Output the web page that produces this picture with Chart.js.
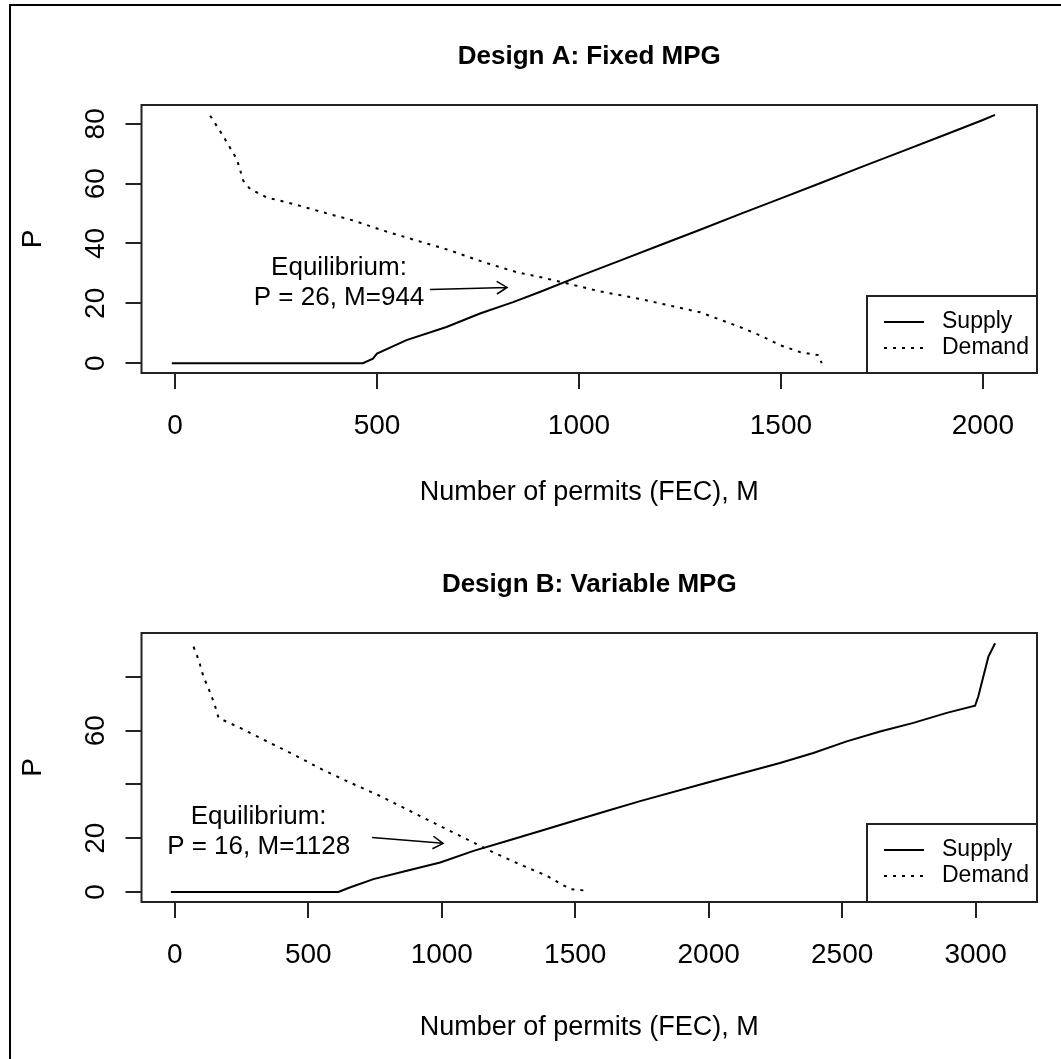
<!DOCTYPE html>
<html>
<head>
<meta charset="utf-8">
<script src="https://cdn.jsdelivr.net/npm/chart.js@4.4.0/dist/chart.umd.min.js"></script>
<style>
    html, body { margin: 0; padding: 0; background: #fff; }
    #page { position: relative; width: 1061px; height: 1059px; overflow: hidden; background: #fff; }
    #frame { position: absolute; left: 9px; top: 4px; width: 1100px; height: 1100px;
             border-left: 2px solid #000; border-top: 2px solid #000; }
    canvas { position: absolute; left: 0; }
</style>
</head>
<body>
<div id="page">
    <div id="frame"></div>
    <canvas id="chartA" width="1061" height="530" style="top:0px"></canvas>
    <canvas id="chartB" width="1061" height="529" style="top:530px"></canvas>
</div>
<script>
// Design A: Fixed MPG
const supplyA_M = [-8, 465, 490, 500, 573, 672, 755, 837, 903, 1000, 1100, 1200, 1300, 1400, 1500, 1600, 1700, 1800, 1900, 2000, 2030]
const supplyA_P = [0, 0, 1.5, 3.2, 7.7, 12.1, 16.6, 20.4, 23.8, 29, 34.2, 39.4, 44.6, 49.9, 55.1, 60.3, 65.6, 70.8, 76, 81.3, 83]
const demandA_M = [87, 100, 116, 153, 169, 186, 227, 293, 367, 441, 516, 598, 681, 763, 846, 903, 960, 1052, 1150, 1200, 1300, 1400, 1448, 1498, 1547, 1592, 1601]
const demandA_P = [82.7, 80, 76.6, 68.2, 61, 58.2, 55.4, 53.2, 50.4, 47.7, 44.3, 41, 37.7, 33.8, 30.4, 28.8, 27, 24, 21.5, 20, 17, 12, 9.3, 6, 3.7, 2.7, 0]

// Design B: Variable MPG
const supplyB_M = [-15, 613, 650, 744, 869, 994, 1119, 1244, 1369, 1493, 1618, 1743, 2000, 2267, 2392, 2517, 2642, 2767, 2892, 2998, 3010, 3029, 3048, 3073]
const supplyB_P = [0, 0, 1.5, 4.8, 7.9, 11, 15.3, 19, 22.7, 26.4, 30.1, 33.8, 40.8, 48, 51.7, 56, 59.7, 62.9, 66.6, 69.3, 72.7, 80.1, 87.5, 92.5]
const demandB_M = [70, 89, 107, 133, 151, 164, 245, 345, 445, 551, 645, 769, 894, 1019, 1119, 1194, 1306, 1394, 1481, 1543]
const demandB_P = [91.2, 86.3, 80.1, 74, 69, 64.7, 61, 56, 51.1, 45.6, 41.2, 35.7, 29.5, 23.3, 18.4, 14.7, 9.7, 6, 1.1, 0.5]

// axis ticks, and the P labels R actually printed (it drops ones that would overlap)
const xTicksA = [0, 500, 1000, 1500, 2000]
const xTicksB = [0, 500, 1000, 1500, 2000, 2500, 3000]
const yTicksA = [0, 20, 40, 60, 80]
const yTicksB = [0, 20, 40, 60, 80]
const yTickLabelsA = [0, 20, 40, 60, 80]
const yTickLabelsB = [0, 20, 60]

// equilibrium notes: text, text anchor (M, P), arrow from/to (M, P)
const noteA = ['Equilibrium:', 'P = 26, M=944']
const noteA_at = [406, 26.7]
const arrowA = [631, 24.6, 822, 25.3]
const noteB = ['Equilibrium:', 'P = 16, M=1128']
const noteB_at = [314, 22.4]
const arrowB = [739, 20.3, 1005, 18.1]

const FONT = '"Liberation Sans", Arial, Helvetica, sans-serif'
Chart.defaults.font.family = FONT
Chart.defaults.color = '#000'

const toPoints = (ms, ps) => ms.map((m, i) => ({ x: m, y: ps[i] }))

const econPlugin = {
    id: 'econ',
    afterDraw(chart, args, o) {
        const { ctx, chartArea: a, scales: { x, y } } = chart
        ctx.save()
        ctx.strokeStyle = '#222'
        ctx.fillStyle = '#000'
        ctx.lineWidth = 2

        // box round the plot
        ctx.strokeRect(a.left, a.top, a.width, a.height)

        // main title
        ctx.font = 'bold 26px ' + FONT
        ctx.textAlign = 'center'
        ctx.textBaseline = 'middle'
        ctx.fillText(o.title, (a.left + a.right) / 2, o.titleY)

        // P tick labels, turned like R does
        ctx.font = '28px ' + FONT
        y.ticks.forEach(t => {
            if (!o.yLabels.includes(t.value)) return
            ctx.save()
            ctx.translate(o.yLabelX, y.getPixelForValue(t.value))
            ctx.rotate(-Math.PI / 2)
            ctx.fillText(String(t.value), 0, 0)
            ctx.restore()
        })

        // legend box bottom right
        const lx = o.legendLeft, lt = o.legendTop
        ctx.strokeRect(lx, lt, a.right - lx, a.bottom - lt)
        ctx.font = '23px ' + FONT
        ctx.textAlign = 'left'
        chart.data.datasets.forEach((ds, i) => {
            const ry = lt + 26 + i * 26
            ctx.strokeStyle = '#000'
            ctx.setLineDash(ds.borderDash || [])
            ctx.beginPath()
            ctx.moveTo(lx + 17, ry)
            ctx.lineTo(lx + 57, ry)
            ctx.stroke()
            ctx.setLineDash([])
            ctx.fillText(ds.label, lx + 75, ry)
        })

        // equilibrium note + arrow
        const nx = x.getPixelForValue(o.noteAt[0]), ny = y.getPixelForValue(o.noteAt[1])
        ctx.font = '26px ' + FONT
        ctx.textAlign = 'center'
        ctx.fillText(o.note[0], nx, ny - 15)
        ctx.fillText(o.note[1], nx, ny + 15)

        const x0 = x.getPixelForValue(o.arrow[0]), y0 = y.getPixelForValue(o.arrow[1])
        const x1 = x.getPixelForValue(o.arrow[2]), y1 = y.getPixelForValue(o.arrow[3])
        const ang = Math.atan2(y1 - y0, x1 - x0)
        ctx.lineWidth = 1.5
        ctx.strokeStyle = '#000'
        ctx.beginPath()
        ctx.moveTo(x0, y0)
        ctx.lineTo(x1, y1)
        ctx.moveTo(x1 - 12 * Math.cos(ang - 0.55), y1 - 12 * Math.sin(ang - 0.55))
        ctx.lineTo(x1, y1)
        ctx.lineTo(x1 - 12 * Math.cos(ang + 0.55), y1 - 12 * Math.sin(ang + 0.55))
        ctx.stroke()
        ctx.restore()
    }
}

function makeChart(id, cfg) {
    const tickGrid = { drawOnChartArea: false, drawTicks: true, tickLength: 16, color: '#222', lineWidth: 2 }
    return new Chart(document.getElementById(id), {
        type: 'line',
        data: {
            datasets: [
                { label: 'Supply', data: cfg.supply, borderColor: '#000', borderWidth: 2 },
                { label: 'Demand', data: cfg.demand, borderColor: '#000', borderWidth: 2, borderDash: [3, 6] }
            ]
        },
        options: {
            responsive: false,
            animation: false,
            layout: { padding: { top: cfg.padTop, right: 24, left: 0, bottom: 0 } },
            elements: { point: { radius: 0 }, line: { tension: 0 } },
            plugins: {
                legend: { display: false },
                tooltip: { enabled: false },
                econ: cfg.econ
            },
            scales: {
                x: {
                    type: 'linear',
                    min: cfg.xMin, max: cfg.xMax,
                    border: { display: false },
                    grid: tickGrid,
                    afterBuildTicks: s => { s.ticks = cfg.xTicks.map(v => ({ value: v })) },
                    ticks: { autoSkip: false, maxRotation: 0, font: { size: 28 }, padding: 20,
                             callback: v => String(v) },
                    title: { display: true, text: 'Number of permits (FEC), M', font: { size: 27 },
                             padding: { top: 0, bottom: cfg.xTitlePad } },
                    afterFit: s => { s.height = 157 }
                },
                y: {
                    min: cfg.yMin, max: cfg.yMax,
                    border: { display: false },
                    grid: tickGrid,
                    afterBuildTicks: s => { s.ticks = cfg.yTicks.map(v => ({ value: v })) },
                    ticks: { autoSkip: false, color: 'transparent', font: { size: 28 }, callback: v => String(v) },
                    title: { display: true, text: 'P', font: { size: 28 }, padding: { top: 16, bottom: 0 } },
                    afterFit: s => { s.width = 141.5 }
                }
            }
        },
        plugins: [econPlugin]
    })
}

makeChart('chartA', {
    supply: toPoints(supplyA_M, supplyA_P),
    demand: toPoints(demandA_M, demandA_P),
    xMin: -83, xMax: 2134, yMin: -3.3, yMax: 86.3,
    xTicks: xTicksA, yTicks: yTicksA,
    padTop: 105, xTitlePad: 21,
    econ: { title: 'Design A: Fixed MPG', titleY: 57, yLabels: yTickLabelsA, yLabelX: 96,
            legendLeft: 867, legendTop: 296, note: noteA, noteAt: noteA_at, arrow: arrowA }
})

makeChart('chartB', {
    supply: toPoints(supplyB_M, supplyB_P),
    demand: toPoints(demandB_M, demandB_P),
    xMin: -125, xMax: 3230, yMin: -3.7, yMax: 96.3,
    xTicks: xTicksB, yTicks: yTicksB,
    padTop: 103, xTitlePad: 15,
    econ: { title: 'Design B: Variable MPG', titleY: 55, yLabels: yTickLabelsB, yLabelX: 96,
            legendLeft: 867, legendTop: 294, note: noteB, noteAt: noteB_at, arrow: arrowB }
})
</script>
</body>
</html>
